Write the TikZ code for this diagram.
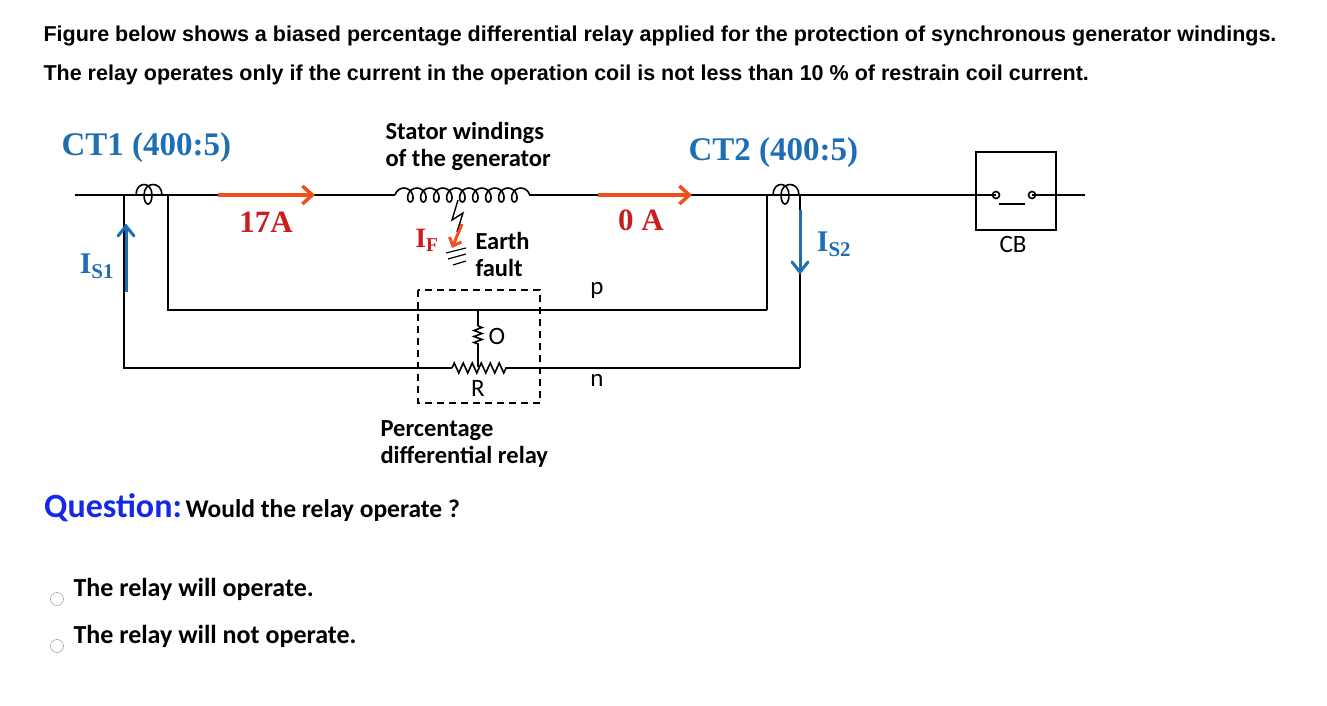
\documentclass[tikz,border=0pt]{standalone}
\usepackage{fontspec}
\setmainfont{Liberation Sans}
\newfontfamily\carl{Carlito}
\newfontfamily\ser{Liberation Serif}
\usetikzlibrary{decorations.pathmorphing,arrows.meta}
\definecolor{ora}{RGB}{240,80,30}
\definecolor{dred}{RGB}{200,30,30}
\definecolor{blu}{RGB}{30,110,180}
\definecolor{qblue}{RGB}{20,40,230}
\begin{document}
\begin{tikzpicture}[x=1pt,y=-1pt,
 wire/.style={line width=1.6pt},
 flow/.style={ora,line width=3.5pt,-{Straight Barb[length=10pt,width=18pt,line width=3.5pt]}},
 cur/.style={blu,line width=3pt},
 chev/.style={blu,line width=3pt,line cap=round,line join=miter},
 lab/.style={font=\carl\bfseries\fontsize{24.5}{27}\selectfont,align=left,anchor=west},
 ctl/.style={font=\ser\bfseries\fontsize{33}{36}\selectfont,text=blu,anchor=west},
 red/.style={font=\ser\bfseries\fontsize{31}{34}\selectfont,text=dred},
 head/.style={font=\bfseries\fontsize{21.5}{24}\selectfont,anchor=west},
 sm/.style={font=\carl\fontsize{25}{27}\selectfont},
 opt/.style={font=\carl\bfseries\fontsize{26}{29}\selectfont,anchor=west}]
\useasboundingbox (0,0) rectangle (1327,706);
\node[head] (t1) at (40,36) {Figure below shows a biased percentage differential relay applied for the protection of synchronous generator windings.};
\node[head] (t2) at (40,75) {The relay operates only if the current in the operation coil is not less than 10 \% of restrain coil current.};
% main line
\coordinate (L0) at (75,195); \coordinate (L1) at (1085,195);
\coordinate (w0) at (395,195); \coordinate (w1) at (532,195);
\draw[wire] (L0) -- (w0);
\draw[wire,decoration={coil,aspect=0.8,segment length=13pt,amplitude=7pt},decorate] (w0) -- (w1);
\draw[wire] (w1) -- (996,195);
\draw[wire] (1032,195) -- (L1);
% CT1 coil
\draw[wire] (136,195) .. controls (136,181) and (152,181) .. (152,195) .. controls (152,207) and (144,207) .. (144,195) .. controls (144,181) and (162,181) .. (162,195);
\draw[wire] (136,195) -- (124,195) -- (124,368) -- (800,368);
\draw[wire] (162,195) -- (168,195) -- (168,310) -- (767,310);
% CT2 coil
\draw[wire] (773,195) .. controls (773,181) and (789,181) .. (789,195) .. controls (789,207) and (781,207) .. (781,195) .. controls (781,181) and (799,181) .. (799,195);
\draw[wire] (773,195) -- (767,195) -- (767,310);
\draw[wire] (799,195) -- (800,195) -- (800,368);
% relay box
\draw[line width=1.6pt,dash pattern=on 7pt off 5pt] (418,290) rectangle (540,403);
\draw[wire] (478,310) -- (478,326);
\draw[wire,decoration={zigzag,segment length=6pt,amplitude=4pt},decorate] (478,326) -- (478,346);
\draw[wire] (478,346) -- (478,368);
\draw[wire,white,line width=3pt] (452,368) -- (508,368);
\draw[wire,decoration={zigzag,segment length=9pt,amplitude=5pt},decorate] (452,368) -- (510,368);
\node[sm] (O) at (497,336) {O};
\node[sm] (R) at (478,388) {R};
\node[sm] (p) at (597,290) {p};
\node[sm] (n) at (597,380) {n};
% fault
\draw[line width=1.4pt] (458,200) -- (452,220) -- (463,213) -- (457,232);
\draw[ora,line width=3pt,-{Straight Barb[length=7pt,width=13pt,line width=3pt]}] (462,224) -- (452,248);
\draw[line width=1.2pt] (446,253) -- (466,248) (448,259) -- (466,254) (453,265) -- (466,261);
\node[font=\ser\bfseries\fontsize{28}{30}\selectfont,text=dred] (IF) at (427,240) {I\textsubscript{F}};
\node[lab] (ef) at (472,254) {Earth\\fault};
% flows
\coordinate (a1) at (218,195); \coordinate (a2) at (315,195);
\coordinate (b1) at (598,195); \coordinate (b2) at (692,195);
\draw[flow] (a1) -- (a2);
\draw[flow] (b1) -- (b2);
\node[red] (i17) at (266,222) {17A};
\node[red] (i0) at (641,220) {0 A};
% CT currents
\coordinate (s1a) at (126,292); \coordinate (s1b) at (126,227);
\draw[cur] (s1a) -- (s1b);
\draw[chev] (118,236) -- (126,226) -- (134,236);
\node[font=\ser\bfseries\fontsize{30}{32}\selectfont,text=blu] (is1) at (97,266) {I\textsubscript{S1}};
\coordinate (s2a) at (800,210); \coordinate (s2b) at (800,271);
\draw[cur] (s2a) -- (s2b);
\draw[chev] (792,262) -- (800,272) -- (808,262);
\node[font=\ser\bfseries\fontsize{30}{32}\selectfont,text=blu] (is2) at (834,244) {I\textsubscript{S2}};
\node[ctl] (ct1) at (58,148) {CT1 (400:5)};
\node[ctl] (ct2) at (685,153) {CT2 (400:5)};
\node[lab] (sw) at (382,146) {Stator windings\\of the generator};
\node[lab] (pdr) at (377,444) {Percentage\\differential relay};
% CB
\draw[wire] (976,152) rectangle (1056,230);
\draw[wire] (996,195) circle (3.5);
\draw[wire] (1032,195) circle (3.5);
\draw[wire] (999,204) -- (1025,204);
\node[sm] (cb) at (1013,244) {CB};
% question
\node[anchor=west,inner sep=0] (q) at (44,508) {{\carl\bfseries\fontsize{34}{36}\selectfont\color{qblue}Question:} {\carl\bfseries\fontsize{25.5}{28}\selectfont Would the relay operate ?}};
\draw[gray] (57,599) circle (6.5);
\draw[gray] (57,646) circle (6.5);
\node[opt] (o1) at (70,589) {The relay will operate.};
\node[opt] (o2) at (70,636) {The relay will not operate.};
\end{tikzpicture}
\end{document}
